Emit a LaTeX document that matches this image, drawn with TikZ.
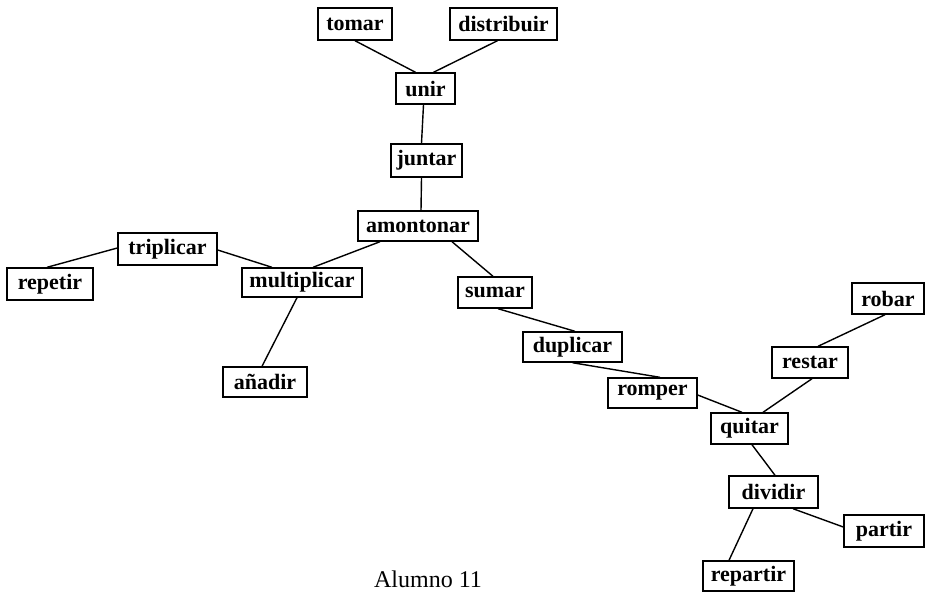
\documentclass[tikz,border=0pt]{standalone}
\usepackage{fontspec}
\setmainfont{Liberation Serif}
\usetikzlibrary{calc}
\begin{document}
\begin{tikzpicture}[x=1pt,y=-1pt,
  wbox/.style={draw, line width=1.4pt, inner sep=0pt, font=\fontsize{22}{26}\selectfont\bfseries},
  link/.style={line width=1.4pt}]
\useasboundingbox (0,0) rectangle (925,592);
\node[wbox, minimum width=74, minimum height=32] (tomar) at (355,24) {tomar};
\node[wbox, minimum width=107, minimum height=32] (distribuir) at (503.5,24) {distribuir};
\node[wbox, minimum width=59, minimum height=31] (unir) at (425.5,88.5) {unir};
\node[wbox, minimum width=71, minimum height=33] (juntar) at (426.5,160.5) {juntar};
\node[wbox, minimum width=120, minimum height=30] (amontonar) at (418,226) {amontonar};
\node[wbox, minimum width=99, minimum height=32] (triplicar) at (167.5,249) {triplicar};
\node[wbox, minimum width=86, minimum height=32] (repetir) at (50,284) {repetir};
\node[wbox, minimum width=120, minimum height=29] (multiplicar) at (302,282.5) {multiplicar};
\node[wbox, minimum width=84, minimum height=30] (anadir) at (265,382) {añadir};
\node[wbox, minimum width=74, minimum height=31] (sumar) at (495,292.5) {sumar};
\node[wbox, minimum width=99, minimum height=30] (duplicar) at (572.5,347) {duplicar};
\node[wbox, minimum width=89, minimum height=30] (romper) at (652.5,393) {romper};
\node[wbox, minimum width=77, minimum height=31] (quitar) at (749.5,428.5) {quitar};
\node[wbox, minimum width=76, minimum height=31] (restar) at (810,362.5) {restar};
\node[wbox, minimum width=72, minimum height=31] (robar) at (888,298.5) {robar};
\node[wbox, minimum width=89, minimum height=32] (dividir) at (773.5,492) {dividir};
\node[wbox, minimum width=80, minimum height=32] (partir) at (884,531) {partir};
\node[wbox, minimum width=91, minimum height=30] (repartir) at (748.5,576) {repartir};
\node[font=\fontsize{24}{28}\selectfont] (caption) at (428,579) {Alumno 11};

\draw[link] (tomar.south) -- ($(unir.north)+(-10,0)$);
\draw[link] ($(distribuir.south)+(-6,0)$) -- ($(unir.north)+(8,0)$);
\draw[link] ($(unir.south)+(-2,0)$) -- ($(juntar.north)+(-5,0)$);
\draw[link] ($(juntar.south)+(-5,0)$) -- ($(amontonar.north)+(3,0)$);
\draw[link] ($(amontonar.south)+(-38,0)$) -- ($(multiplicar.north)+(11,0)$);
\draw[link] ($(amontonar.south)+(34,0)$) -- ($(sumar.north)+(-2,0)$);
\draw[link] ($(triplicar.west)+(0,-1)$) -- ($(repetir.north)+(-3,0)$);
\draw[link] ($(triplicar.east)+(0,1)$) -- ($(multiplicar.north)+(-30,0)$);
\draw[link] ($(multiplicar.south)+(-5,0)$) -- ($(anadir.north)+(-3,0)$);
\draw[link] ($(sumar.south)+(3,0)$) -- ($(duplicar.north)+(2.5,0)$);
\draw[link] (duplicar.south) -- ($(romper.north)+(7.5,0)$);
\draw[link] ($(romper.east)+(0,2)$) -- ($(quitar.north)+(-7.5,0)$);
\draw[link] ($(restar.south)+(2,0)$) -- ($(quitar.north)+(13.5,0)$);
\draw[link] ($(robar.south)+(-3,0)$) -- ($(restar.north)+(8,0)$);
\draw[link] ($(quitar.south)+(2.5,0)$) -- ($(dividir.north)+(1.5,0)$);
\draw[link] ($(dividir.south)+(19.5,0)$) -- ($(partir.west)+(0,-4)$);
\draw[link] ($(dividir.south)+(-20.5,0)$) -- ($(repartir.north)+(-19.5,0)$);
\end{tikzpicture}
\end{document}
